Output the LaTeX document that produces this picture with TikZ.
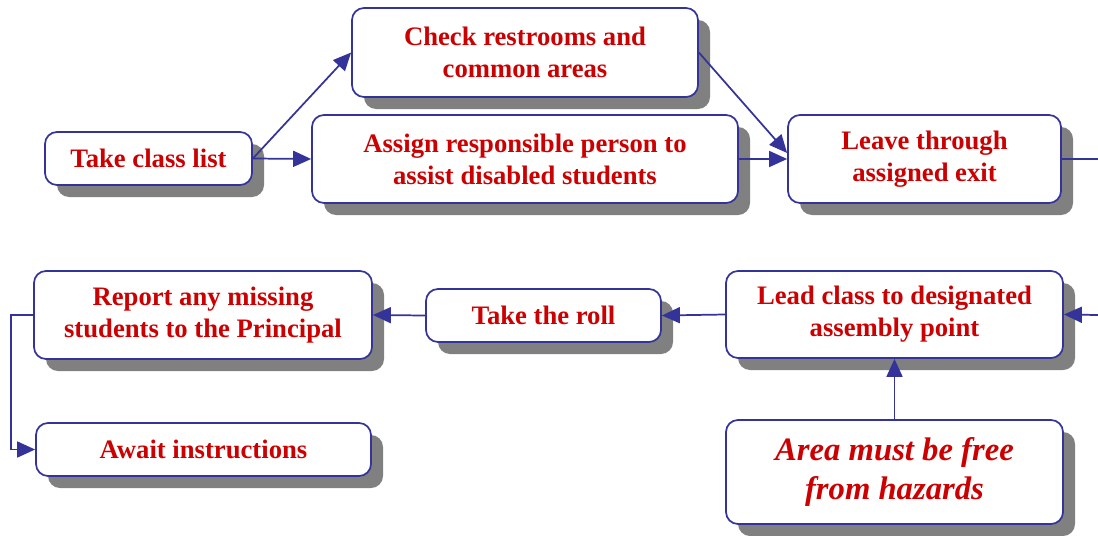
\documentclass[tikz,border=0pt]{standalone}
\usepackage{fontspec}
\setmainfont{Liberation Serif}
\usetikzlibrary{arrows.meta,shadows}
\definecolor{boxblue}{RGB}{51,51,153}
\definecolor{textred}{RGB}{204,0,0}
\definecolor{shade}{RGB}{128,128,128}

\begin{document}
\begin{tikzpicture}[
    x=0.75pt, y=-0.75pt,  % work in pixels of the original
    task/.style 2 args = {draw=boxblue, line width=1.3pt, fill=white, rounded corners=9pt,
        minimum width=#1*0.75pt, minimum height=#2*0.75pt, inner sep=0pt, align=center,
        font=\fontsize{20}{24}\selectfont\bfseries, text=textred,
        drop shadow={shadow xshift=9pt, shadow yshift=-9pt, fill=shade, opacity=1}},
    link/.style = {draw=boxblue, line width=1.3pt, -{Triangle[length=13.5pt,width=12pt]}}
  ]
    \useasboundingbox (0,0) rectangle (1098,535);

    % top row
    \node[task={207}{53}] (take) at (148.5,158.5) {Take class list};
    \node[task={346}{89}] (check) at (525,52.5) {Check restrooms and\\common areas};
    \node[task={426}{88}] (assign) at (525,159) {Assign responsible person to\\assist disabled students};
    \node[task={273}{88}] (leave) at (924.5,159) {Leave through\\assigned exit};

    % bottom row
    \node[task={337}{87}] (lead) at (894.5,314.5) {Lead class to designated\\assembly point};
    \node[task={235}{53}] (roll) at (543.5,315.5) {Take the roll};
    \node[task={338}{88}] (report) at (203,315) {Report any missing\\students to the Principal};
    \node[task={335}{53}] (await) at (203.5,449.5) {Await instructions};
    \node[task={337}{104}, font=\fontsize{24.5}{29.5}\selectfont\bfseries\itshape] (area) at (894.5,472)
        {Area must be free\\from hazards};

    % loose ends at the right edge
    \coordinate (leaveout) at (1098,159);
    \coordinate (leadin) at (1098,315);

    \draw[link] (take.east) -- (check.west);
    \draw[link] (take.east) -- (assign.west);
    \draw[link] (check.east) -- ([yshift=4.5pt]leave.west);
    \draw[link] (assign.east) -- (leave.west);
    \draw[draw=boxblue, line width=1.3pt] (leave.east) -- (leaveout);
    \draw[link] (leadin) -- (lead.east);
    \draw[link] (lead.west) -- (roll.east);
    \draw[link] (roll.west) -- (report.east);
    \draw[link] (report.west) -- ++(-22,0) |- (await.west);   % down the left side
    \draw[link] (area.north) -- (lead.south);

  \end{tikzpicture}
\end{document}
